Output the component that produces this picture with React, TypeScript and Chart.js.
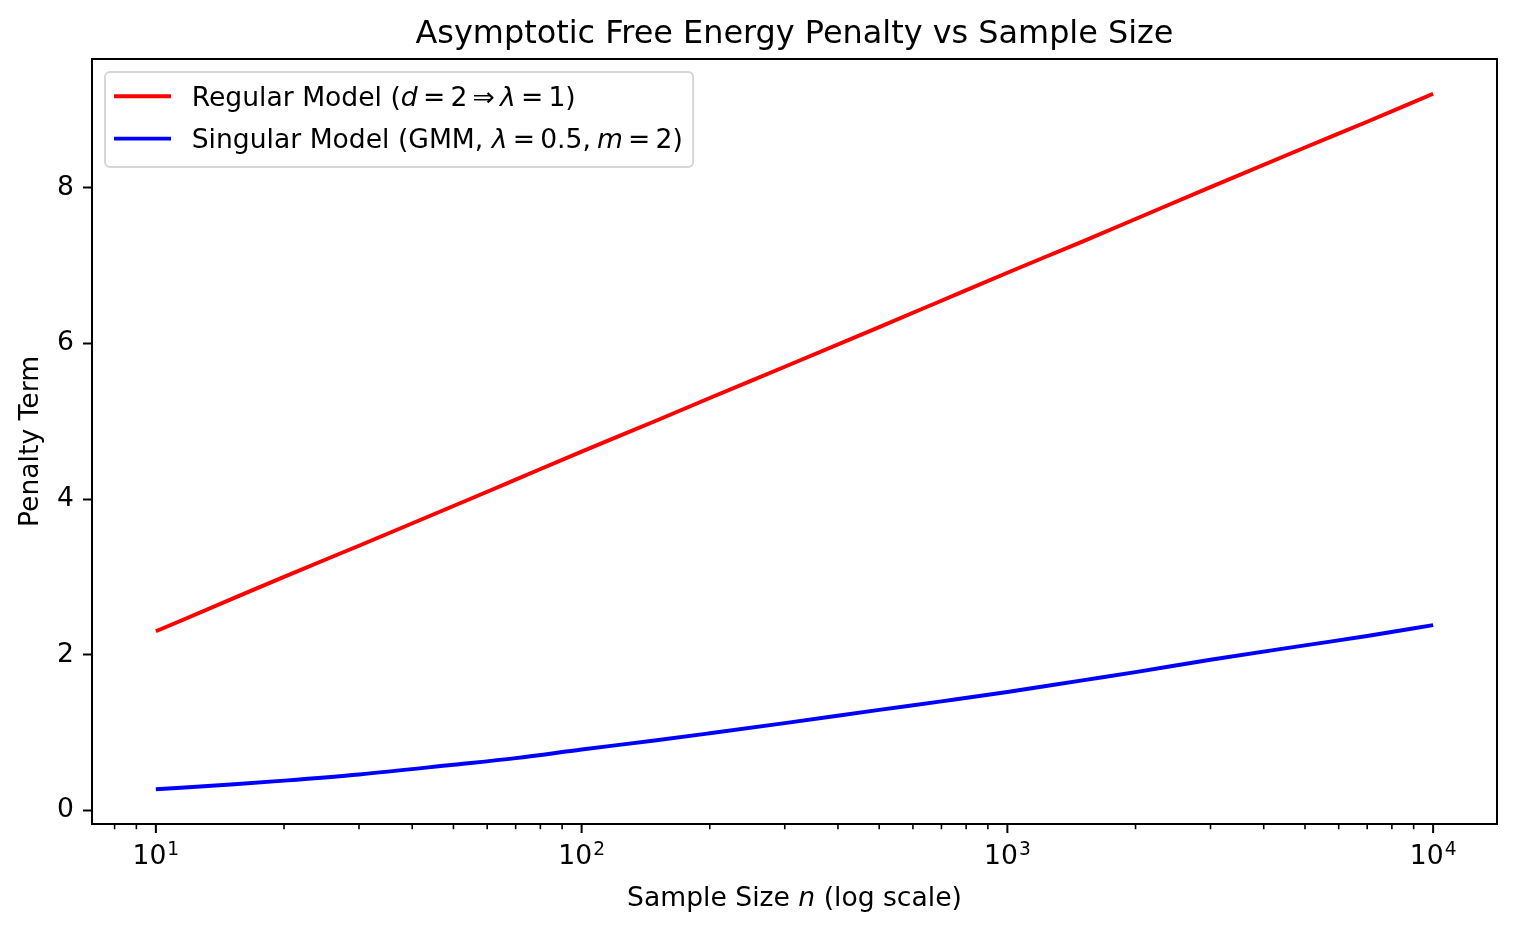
import { useEffect, useRef } from "react";
import { Chart, registerables } from "chart.js";

Chart.register(...registerables);

// ---- data ----
const sampleSizes = [10, 15, 20, 30, 50, 70, 100, 150, 200, 300, 500, 700, 1000, 1500, 2000, 3000, 5000, 7000, 10000];
const regularPenalty = [2.3, 2.71, 3.0, 3.4, 3.91, 4.25, 4.61, 5.01, 5.3, 5.7, 6.21, 6.55, 6.91, 7.31, 7.6, 8.01, 8.52, 8.85, 9.21];
const singularPenalty = [0.27, 0.33, 0.38, 0.46, 0.585, 0.67, 0.78, 0.9, 0.99, 1.12, 1.29, 1.4, 1.52, 1.67, 1.775, 1.935, 2.12, 2.24, 2.38];

const yTickValues = [0, 2, 4, 6, 8];
const xMajorTicks = [10, 100, 1000, 10000];
const xMajorExponents = ["1", "2", "3", "4"];
const xMinorTicks = [8, 9, 20, 30, 40, 50, 60, 70, 80, 90, 200, 300, 400, 500, 600, 700, 800, 900, 2000, 3000, 4000, 5000, 6000, 7000, 8000, 9000];

const chartTitle = "Asymptotic Free Energy Penalty vs Sample Size";
const yAxisTitle = "Penalty Term";
const seriesNames = ["Regular Model (d = 2 ⇒ λ = 1)", "Singular Model (GMM, λ = 0.5, m = 2)"];
const seriesColors = ["#ff0000", "#0000ff"];

type Seg = [string, "r" | "i"] | number;
const xAxisTitleSegs: Seg[] = [["Sample Size ", "r"], ["n", "i"], [" (log scale)", "r"]];
const legendSegs: Seg[][] = [
  [["Regular Model (", "r"], ["d", "i"], 5.2, ["=", "r"], 5.2, ["2", "r"], 5.2, ["⇒", "r"], 5.2, ["λ", "i"], 5.2, ["=", "r"], 5.2, ["1", "r"], [")", "r"]],
  [["Singular Model (GMM, ", "r"], ["λ", "i"], 5.2, ["=", "r"], 5.2, ["0.5,", "r"], 6, ["m", "i"], 5.2, ["=", "r"], 5.2, ["2", "r"], [")", "r"]],
];

const BASE = 26.6;
const SUP = 18.6;
const TITLE = 31.9;
const FAMILY = '"DejaVu Sans", "Liberation Sans", sans-serif';
const fnt = (size: number, italic = false) => `${italic ? "italic " : ""}${size}px ${FAMILY}`;

function segsWidth(ctx: CanvasRenderingContext2D, segs: Seg[], size: number) {
  let w = 0;
  for (const s of segs) {
    if (typeof s === "number") w += s;
    else {
      ctx.font = fnt(size, s[1] === "i");
      w += ctx.measureText(s[0]).width;
    }
  }
  return w;
}

function drawSegs(ctx: CanvasRenderingContext2D, segs: Seg[], x: number, y: number, size: number) {
  let cx = x;
  ctx.textAlign = "left";
  for (const s of segs) {
    if (typeof s === "number") cx += s;
    else {
      ctx.font = fnt(size, s[1] === "i");
      ctx.fillText(s[0], cx, y);
      cx += ctx.measureText(s[0]).width;
    }
  }
}

const decorPlugin = {
  id: "decor",
  afterDraw(chart: any) {
    const ctx: CanvasRenderingContext2D = chart.ctx;
    const ca = chart.chartArea;
    const xs = chart.scales.x;
    const cx = (ca.left + ca.right) / 2;
    ctx.save();

    // axes frame
    ctx.strokeStyle = "#000";
    ctx.lineWidth = 2;
    ctx.strokeRect(ca.left, ca.top, ca.right - ca.left, ca.bottom - ca.top);

    // x ticks
    ctx.lineWidth = 1.6;
    ctx.beginPath();
    for (const v of xMinorTicks) {
      const px = xs.getPixelForValue(v);
      if (px < ca.left || px > ca.right) continue;
      ctx.moveTo(px, ca.bottom);
      ctx.lineTo(px, ca.bottom + 5.2);
    }
    ctx.stroke();
    ctx.lineWidth = 2;
    ctx.beginPath();
    for (const v of xMajorTicks) {
      const px = xs.getPixelForValue(v);
      ctx.moveTo(px, ca.bottom);
      ctx.lineTo(px, ca.bottom + 9);
    }
    ctx.stroke();

    // x tick labels 10^k
    ctx.fillStyle = "#000";
    ctx.textBaseline = "alphabetic";
    ctx.textAlign = "left";
    xMajorTicks.forEach((v, i) => {
      const px = xs.getPixelForValue(v);
      ctx.font = fnt(BASE);
      const w1 = ctx.measureText("10").width;
      ctx.font = fnt(SUP);
      const w2 = ctx.measureText(xMajorExponents[i]).width;
      const start = px - (w1 + w2 + 1) / 2;
      ctx.font = fnt(BASE);
      ctx.fillText("10", start, ca.bottom + 40);
      ctx.font = fnt(SUP);
      ctx.fillText(xMajorExponents[i], start + w1 + 1, ca.bottom + 30.5);
    });

    // x axis title
    const xtW = segsWidth(ctx, xAxisTitleSegs, BASE);
    drawSegs(ctx, xAxisTitleSegs, cx - xtW / 2, ca.bottom + 82, BASE);

    // y axis title
    ctx.save();
    ctx.translate(37.5, (ca.top + ca.bottom) / 2);
    ctx.rotate(-Math.PI / 2);
    ctx.font = fnt(BASE);
    ctx.textAlign = "center";
    ctx.fillText(yAxisTitle, 0, 0);
    ctx.restore();

    // chart title
    ctx.font = fnt(TITLE);
    ctx.textAlign = "center";
    ctx.fillText(chartTitle, cx, ca.top - 15.6);

    // legend
    const lx = ca.left + 13;
    const ly = ca.top + 13;
    const textX = lx + 86.7;
    const maxW = Math.max(...legendSegs.map((s) => segsWidth(ctx, s, BASE)));
    const lw = textX - lx + maxW + 10.4;
    const lh = 95;
    const r = 5;
    ctx.beginPath();
    ctx.moveTo(lx + r, ly);
    ctx.arcTo(lx + lw, ly, lx + lw, ly + lh, r);
    ctx.arcTo(lx + lw, ly + lh, lx, ly + lh, r);
    ctx.arcTo(lx, ly + lh, lx, ly, r);
    ctx.arcTo(lx, ly, lx + lw, ly, r);
    ctx.closePath();
    ctx.fillStyle = "rgba(255,255,255,0.8)";
    ctx.fill();
    ctx.strokeStyle = "#d6d6d6";
    ctx.lineWidth = 2;
    ctx.stroke();

    chart.data.datasets.forEach((ds: any, i: number) => {
      const rowY = ly + 24.3 + i * 42.3;
      ctx.strokeStyle = ds.borderColor;
      ctx.lineWidth = ds.borderWidth;
      ctx.beginPath();
      ctx.moveTo(lx + 9, rowY);
      ctx.lineTo(lx + 66, rowY);
      ctx.stroke();
      ctx.fillStyle = "#000";
      ctx.textBaseline = "alphabetic";
      drawSegs(ctx, legendSegs[i], textX, rowY + 9.4, BASE);
    });

    ctx.restore();
  },
};

export default function App() {
  const canvasRef = useRef<HTMLCanvasElement | null>(null);

  useEffect(() => {
    if (!canvasRef.current) return;
    const all = [...regularPenalty, ...singularPenalty];
    const dMin = Math.min(...all);
    const dMax = Math.max(...all);
    const margin = (dMax - dMin) * 0.05;
    const lMin = Math.log10(Math.min(...sampleSizes));
    const lMax = Math.log10(Math.max(...sampleSizes));
    const lMargin = (lMax - lMin) * 0.05;

    const chart = new Chart(canvasRef.current, {
      type: "line",
      data: {
        datasets: [
          {
            label: seriesNames[0],
            data: sampleSizes.map((n, i) => ({ x: n, y: regularPenalty[i] })),
            borderColor: seriesColors[0],
            borderWidth: 3.9,
            pointRadius: 0,
            fill: false,
            cubicInterpolationMode: "monotone",
          },
          {
            label: seriesNames[1],
            data: sampleSizes.map((n, i) => ({ x: n, y: singularPenalty[i] })),
            borderColor: seriesColors[1],
            borderWidth: 3.9,
            pointRadius: 0,
            fill: false,
            cubicInterpolationMode: "monotone",
          },
        ],
      },
      options: {
        animation: false,
        responsive: false,
        devicePixelRatio: 1,
        events: [],
        layout: { padding: { top: 59, right: 19, left: 0, bottom: 0 } },
        plugins: {
          legend: { display: false },
          title: { display: false },
          tooltip: { enabled: false },
        },
        scales: {
          x: {
            type: "logarithmic",
            min: Math.pow(10, lMin - lMargin),
            max: Math.pow(10, lMax + lMargin),
            ticks: { display: false },
            grid: { display: false },
            border: { display: false },
            afterFit: (s: any) => {
              s.height = 108;
            },
          },
          y: {
            type: "linear",
            min: dMin - margin,
            max: dMax + margin,
            afterBuildTicks: (s: any) => {
              s.ticks = yTickValues.map((v) => ({ value: v }));
            },
            ticks: {
              font: { family: FAMILY, size: BASE },
              color: "#000",
              padding: 9,
              callback: (v: any) => String(v),
            },
            grid: {
              display: true,
              drawOnChartArea: false,
              drawTicks: true,
              tickLength: 9,
              tickColor: "#000",
              tickWidth: 2,
            },
            border: { display: false },
            afterFit: (s: any) => {
              s.width = 92;
            },
          },
        },
      } as any,
      plugins: [decorPlugin],
    });
    return () => chart.destroy();
  }, []);

  return (
    <div style={{ position: "fixed", left: 0, top: 0, width: 1516, height: 932, background: "#fff" }}>
      <canvas ref={canvasRef} width={1516} height={932} style={{ width: 1516, height: 932 }} />
    </div>
  );
}
